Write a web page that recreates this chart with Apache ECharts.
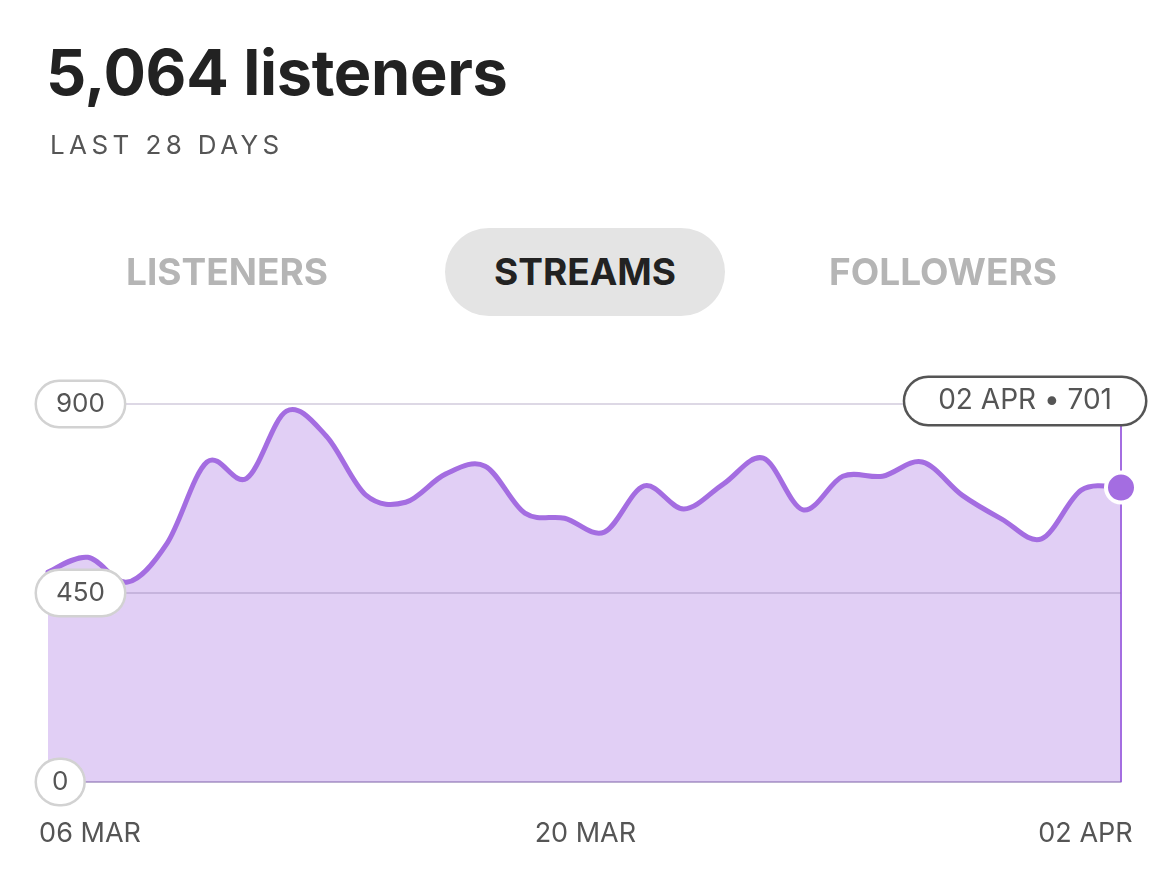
<!DOCTYPE html>
<html>
<head>
    <meta charset="UTF-8">
    <title>Streams - last 28 days</title>
    <script src="https://cdn.jsdelivr.net/npm/echarts@6/dist/echarts.min.js"></script>
    <style>
        body{
            margin: 0;
            background: #fff;
            font-family: Inter, "Noto Sans", sans-serif;
        }
        #main{
            position: absolute;
            left: 0;
            top: 0;
            width: 1170px;
            height: 874px;
        }
        .head{
            position: absolute;
            white-space: nowrap;
            pointer-events: none;
        }
        .big{
            left: 46px;
            top: 41px;
            font-size: 63px;
            line-height: 62px;
            font-weight: 700;
            color: #222;
            letter-spacing: -0.3px;
        }
        .sub{
            left: 50px;
            top: 132px;
            font-size: 26px;
            line-height: 26px;
            color: #555;
            letter-spacing: 4.4px;
        }
        .tab{
            top: 228px;
            width: 300px;
            height: 88px;
            line-height: 88px;
            text-align: center;
            font-size: 37px;
            font-weight: 700;
            color: #b5b5b5;
        }
        .tab.on{
            width: 280px;
            background: #e4e4e4;
            border-radius: 44px;
            color: #222;
        }
    </style>
</head>
<body>
<div id="main"></div>
<div class="head big">5,064 listeners</div>
<div class="head sub">LAST 28 DAYS</div>
<div class="head tab" style="left:77px">LISTENERS</div>
<div class="head tab on" style="left:445px">STREAMS</div>
<div class="head tab" style="left:793px">FOLLOWERS</div>
<script>
    // daily streams, 06 MAR .. 02 APR
    var dates = ['06 MAR','07 MAR','08 MAR','09 MAR','10 MAR','11 MAR','12 MAR','13 MAR','14 MAR','15 MAR',
        '16 MAR','17 MAR','18 MAR','19 MAR','20 MAR','21 MAR','22 MAR','23 MAR','24 MAR','25 MAR',
        '26 MAR','27 MAR','28 MAR','29 MAR','30 MAR','31 MAR','01 APR','02 APR'];
    var streams = [500,535,476,569,762,723,883,824,683,666,
        733,752,640,628,595,705,650,710,771,648,
        728,728,762,683,626,579,695,701];
    var yTicks = [0, 450, 900];
    var xTickLabels = ['06 MAR','20 MAR','02 APR'];

    var purple = '#a46de1';
    var last = streams.length - 1;

    // catmull-rom 曲线, 点由坐标轴换算
    function curvePath(pts) {
        var d = 'M' + pts[0][0] + ',' + pts[0][1];
        for (var i = 0; i < pts.length - 1; i++) {
            var p0 = pts[i - 1] || pts[i], p1 = pts[i], p2 = pts[i + 1], p3 = pts[i + 2] || pts[i + 1];
            d += 'C' + (p1[0] + (p2[0] - p0[0]) / 6) + ',' + (p1[1] + (p2[1] - p0[1]) / 6) + ','
                + (p2[0] - (p3[0] - p1[0]) / 6) + ',' + (p2[1] - (p3[1] - p1[1]) / 6) + ','
                + p2[0] + ',' + p2[1];
        }
        return d;
    }

    function renderCurve(params, api) {
        if (params.dataIndex !== 0) return null;
        var pts = streams.map(function (v, i) { return api.coord([i, v]); });
        var base = api.coord([0, yTicks[0]])[1];
        var top = api.coord([0, yTicks[yTicks.length - 1]])[1];
        var line = curvePath(pts);
        var area = line + 'L' + pts[last][0] + ',' + base + 'L' + pts[0][0] + ',' + base + 'Z';
        return {
            type: 'group',
            children: [
                {type: 'path', shape: {pathData: area}, style: {fill: 'rgba(164,109,225,0.33)'}},
                {type: 'path', shape: {pathData: line},
                    style: {fill: 'none', stroke: purple, lineWidth: 5, lineJoin: 'round', lineCap: 'round'}},
                {type: 'line', shape: {x1: pts[last][0], y1: top, x2: pts[last][0], y2: base},
                    style: {stroke: purple, lineWidth: 2}},
                {type: 'circle', shape: {cx: pts[last][0], cy: pts[last][1], r: 15},
                    style: {fill: purple, stroke: '#fff', lineWidth: 4}}
            ]
        };
    }

    var pill = {
        backgroundColor: '#fff',
        borderColor: '#d2d2d2',
        borderWidth: 2.5,
        borderRadius: 23,
        color: '#555',
        fontFamily: 'Inter',
        fontSize: 26,
        lineHeight: 26
    };

    var chart = echarts.init(document.getElementById('main'));
    chart.setOption({
        animation: false,
        grid: {left: 48, right: 49, top: 404, bottom: 92},
        xAxis: {
            type: 'category',
            data: dates,
            boundaryGap: false,
            axisTick: {show: false},
            axisLine: {show: true, lineStyle: {color: '#d3c8e4', width: 2}},
            axisLabel: {
                interval: 0,
                margin: 38,
                hideOverlap: false,
                color: '#555',
                fontFamily: 'Inter',
                fontSize: 27,
                formatter: function (val, i) {
                    var k = xTickLabels.indexOf(val);
                    if (k < 0) return '';
                    return '{t' + k + '|' + val + '}';
                },
                rich: {
                    t0: {padding: [0, 0, 0, 84]},
                    t1: {padding: [0, 38, 0, 0]},
                    t2: {padding: [0, 71, 0, 0]}
                }
            }
        },
        yAxis: {
            type: 'value',
            min: yTicks[0],
            max: yTicks[yTicks.length - 1],
            interval: yTicks[1] - yTicks[0],
            axisLine: {show: false},
            axisTick: {show: false},
            splitLine: {lineStyle: {color: 'rgba(120,100,150,0.25)', width: 2}},
            axisLabel: {
                inside: true,
                margin: -11,
                formatter: function (v) {
                    return (v === 0 ? '{s|' : '{w|') + v + '}';
                },
                rich: {
                    w: Object.assign({padding: [9, 19]}, pill),
                    s: Object.assign({padding: [9, 15]}, pill)
                }
            },
            z: 5
        },
        series: [{
            type: 'custom',
            data: streams.map(function (v, i) { return [i, v]; }),
            encode: {x: 0, y: 1},
            renderItem: renderCurve,
            clip: false,
            z: 2
        }]
    });

    // 最后一天的提示框
    var p = chart.convertToPixel({gridIndex: 0}, [last, yTicks[yTicks.length - 1]]);
    chart.setOption({
        graphic: [{
            type: 'text',
            x: p[0] + 24,
            y: p[1] - 3,
            z: 100,
            style: {
                text: dates[last] + ' • ' + streams[last],
                align: 'right',
                verticalAlign: 'middle',
                fill: '#555',
                font: '28px Inter',
                backgroundColor: '#fff',
                borderColor: '#555',
                borderWidth: 2.5,
                borderRadius: 25,
                padding: [9, 33]
            }
        }]
    });
</script>
</body>
</html>
